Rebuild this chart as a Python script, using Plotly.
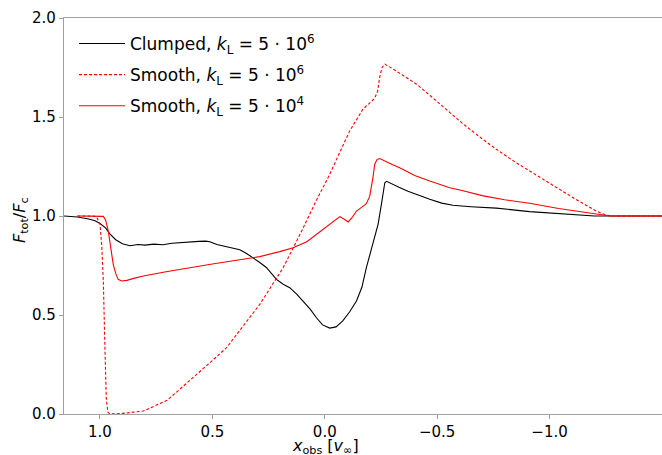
import plotly.graph_objects as go

# Clumped, k_L = 5e6 (black)
clumped_x = [1.16, 1.10, 1.05, 1.022, 1.0, 0.975, 0.956, 0.93, 0.90, 0.867, 0.83, 0.80, 0.76, 0.72,
             0.68, 0.64, 0.60, 0.56, 0.53, 0.511, 0.48, 0.44, 0.40, 0.378, 0.35, 0.333, 0.31, 0.289,
             0.26, 0.215, 0.185, 0.156, 0.125, 0.097, 0.065, 0.037, 0.01, -0.022, -0.05, -0.08,
             -0.11, -0.141, -0.165, -0.185, -0.21, -0.237, -0.252, -0.267, -0.275, -0.30, -0.33,
             -0.37, -0.407, -0.467, -0.52, -0.57, -0.65, -0.763, -0.911, -1.059, -1.20, -1.50]
clumped_y = [1.0, 0.995, 0.985, 0.976, 0.962, 0.94, 0.91, 0.88, 0.86, 0.85, 0.856, 0.853, 0.858, 0.855,
             0.862, 0.866, 0.868, 0.872, 0.873, 0.87, 0.856, 0.846, 0.836, 0.83, 0.812, 0.8, 0.78, 0.765,
             0.74, 0.68, 0.655, 0.638, 0.605, 0.571, 0.53, 0.486, 0.45, 0.434, 0.44, 0.47,
             0.515, 0.571, 0.64, 0.739, 0.85, 0.958, 1.06, 1.168, 1.175, 1.16, 1.145,
             1.125, 1.109, 1.085, 1.065, 1.054, 1.047, 1.04, 1.022, 1.012, 1.0, 1.0]

# Smooth, k_L = 5e6 (red dashed)
smooth6_x = [1.10, 1.03, 1.015, 1.0, 0.992, 0.985, 0.978, 0.972, 0.965, 0.956, 0.90, 0.807, 0.70,
             0.585, 0.50, 0.437, 0.333, 0.289, 0.185, 0.10, 0.037, -0.022, -0.07, -0.111, -0.17,
             -0.222, -0.235, -0.244, -0.255, -0.267, -0.30, -0.35, -0.407, -0.467, -0.556, -0.615,
             -0.70, -0.763, -0.85, -0.911, -1.0, -1.059, -1.13, -1.207, -1.25, -1.28, -1.50]
smooth6_y = [1.0, 1.0, 0.995, 0.96, 0.85, 0.67, 0.335, 0.08, 0.01, 0.0, 0.003, 0.015, 0.07,
             0.183, 0.27, 0.335, 0.487, 0.554, 0.739, 0.93, 1.08, 1.21, 1.33, 1.43, 1.54,
             1.594, 1.63, 1.70, 1.75, 1.767, 1.745, 1.71, 1.667, 1.61, 1.525, 1.465,
             1.39, 1.337, 1.27, 1.227, 1.165, 1.126, 1.075, 1.025, 1.005, 1.0, 1.0]

# Smooth, k_L = 5e4 (red solid)
smooth4_x = [1.10, 1.0, 0.985, 0.975, 0.963, 0.952, 0.941, 0.93, 0.919, 0.904, 0.88, 0.85, 0.807,
             0.70, 0.60, 0.50, 0.40, 0.333, 0.289, 0.20, 0.141, 0.08, 0.037, -0.022, -0.05, -0.067,
             -0.085, -0.104, -0.12, -0.141, -0.165, -0.185, -0.20, -0.207, -0.215, -0.222, -0.232,
             -0.244, -0.27, -0.30, -0.333, -0.40, -0.467, -0.556, -0.615, -0.70, -0.80, -0.911,
             -1.04, -1.15, -1.207, -1.27, -1.50]
smooth4_y = [1.0, 1.0, 0.998, 0.98, 0.924, 0.84, 0.756, 0.71, 0.68, 0.672, 0.675, 0.685, 0.697,
             0.72, 0.74, 0.758, 0.775, 0.786, 0.795, 0.82, 0.84, 0.87, 0.907, 0.958, 0.985, 0.997,
             0.985, 0.97, 0.99, 1.025, 1.045, 1.062, 1.10, 1.143, 1.20, 1.26, 1.285,
             1.29, 1.275, 1.26, 1.244, 1.205, 1.177, 1.143, 1.128, 1.103, 1.082, 1.064,
             1.038, 1.018, 1.01, 1.0, 1.0]

legend_names = ["Clumped, <i>k</i><sub>L</sub> = 5 · 10<sup>6</sup>",
                "Smooth, <i>k</i><sub>L</sub> = 5 · 10<sup>6</sup>",
                "Smooth, <i>k</i><sub>L</sub> = 5 · 10<sup>4</sup>"]

x_tickvals = [1.0, 0.5, 0.0, -0.5, -1.0]
x_ticktext = ["1.0", "0.5", "0.0", "\u22120.5", "\u22121.0"]
y_tickvals = [0.0, 0.5, 1.0, 1.5, 2.0]
y_ticktext = ["0.0", "0.5", "1.0", "1.5", "2.0"]

L, R, T, B = 64, 0, 18, 41
PW = 662 - L - R
PH = 455 - T - B

fig = go.Figure()
fig.add_trace(go.Scatter(x=clumped_x, y=clumped_y, mode="lines", name=legend_names[0],
                         legendgroup="a", line=dict(color="black", width=1.1)))
fig.add_trace(go.Scatter(x=smooth6_x, y=smooth6_y, mode="lines", name=legend_names[1],
                         legendgroup="b", line=dict(color="#ff0000", width=1.1, dash="3px,2px")))
fig.add_trace(go.Scatter(x=smooth4_x, y=smooth4_y, mode="lines", name=legend_names[2],
                         legendgroup="c", line=dict(color="#ff0000", width=1.1)))

axis_color = "#a0a0a0"
font = dict(family="DejaVu Sans", size=15, color="black")

fig.update_layout(
    width=662, height=455,
    margin=dict(l=L, r=R, t=T, b=B, autoexpand=False),
    paper_bgcolor="white", plot_bgcolor="white",
    font=font,
    showlegend=True,
    legend=dict(x=(74 - L) / PW, y=1 - (26 - T) / PH, xanchor="left", yanchor="top",
                bgcolor="rgba(0,0,0,0)", font=dict(family="DejaVu Sans", size=17, color="black"),
                tracegroupgap=6, itemwidth=46),
    xaxis=dict(range=[1.16, -1.5], showgrid=False, zeroline=False, automargin=False,
               showline=True, linecolor=axis_color, linewidth=1.2, mirror=True,
               ticks="outside", ticklen=4, tickcolor=axis_color,
               tickvals=x_tickvals, ticktext=x_ticktext, tickfont=font),
    yaxis=dict(range=[0, 2.0], showgrid=False, zeroline=False, automargin=False,
               showline=True, linecolor=axis_color, linewidth=1.2,
               ticks="outside", ticklen=4, tickcolor=axis_color,
               tickvals=y_tickvals, ticktext=y_ticktext, tickfont=font),
    annotations=[
        dict(text="<i>x</i><sub>obs</sub> [<i>v</i><sub>∞</sub>]",
             xref="paper", yref="paper", x=(325 - L) / PW, y=-(434 - 414) / PH,
             xanchor="center", yanchor="top", showarrow=False,
             font=dict(family="DejaVu Sans", size=16, color="black")),
        dict(text="<i>F</i><sub>tot</sub>/<i>F</i><sub>c</sub>",
             xref="paper", yref="paper", x=(20 - L) / PW, y=(414 - 220) / PH,
             xanchor="center", yanchor="middle", textangle=-90, showarrow=False,
             font=dict(family="DejaVu Sans", size=16, color="black")),
    ],
)

fig.write_html("out.html", config={"displayModeBar": False},
               post_script="document.body.style.margin='0';document.body.style.padding='0';")
